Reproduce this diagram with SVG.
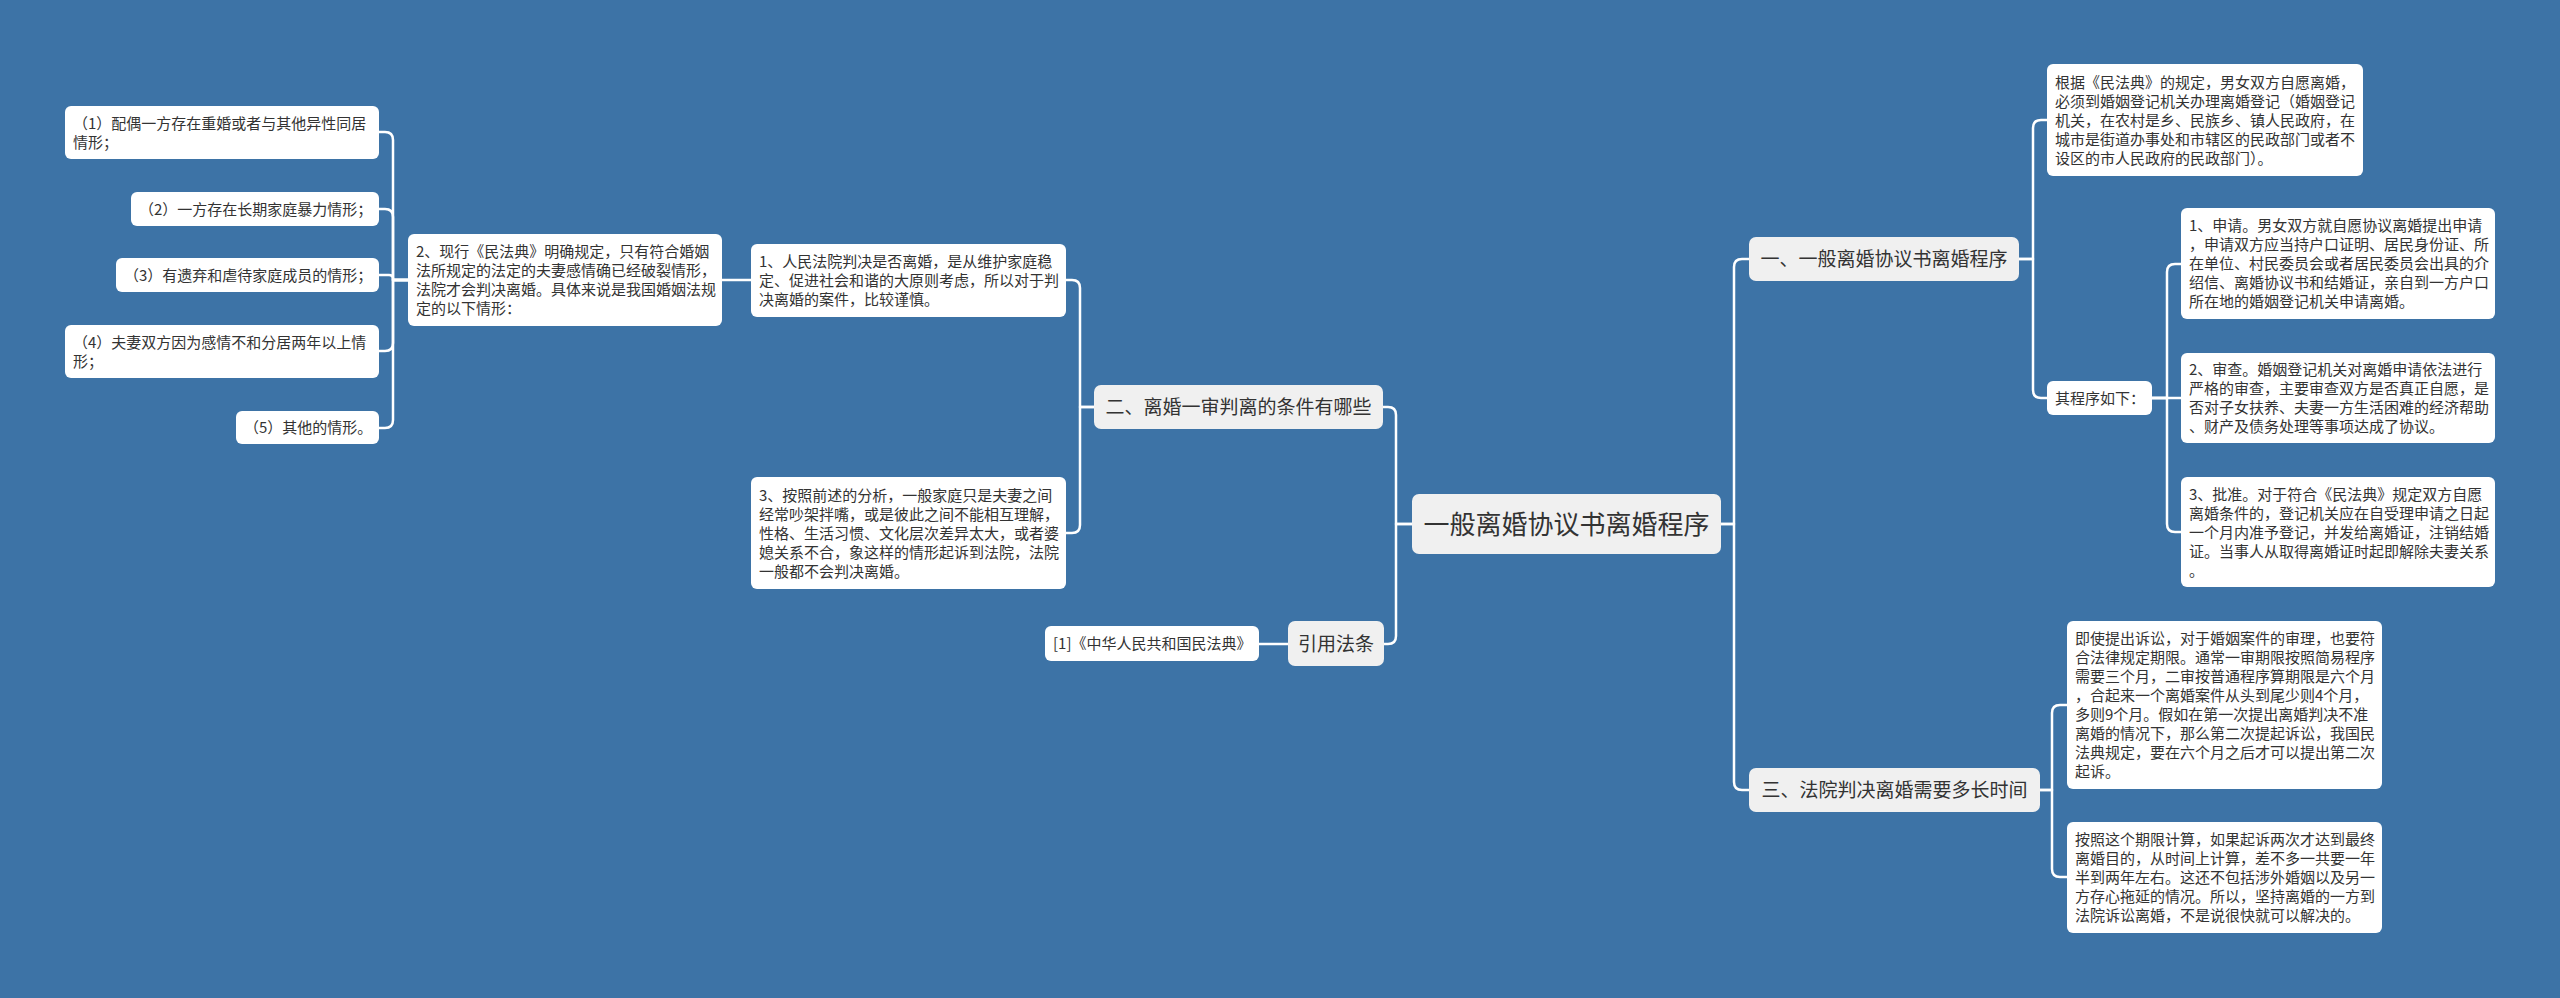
<svg xmlns="http://www.w3.org/2000/svg" width="2560" height="998" viewBox="0 0 2560 998">
<style>
.bg{fill:#3d73a6}
.main{fill:#f0f0f0}
.leaf{fill:#ffffff}
.t{font-family:"Noto Sans CJK SC","Microsoft YaHei",sans-serif;fill:#333333}
.s15{font-size:15px}
.s19{font-size:19px;text-anchor:middle}
.s26{font-size:26px;text-anchor:middle}
.conn path{fill:none;stroke:#ffffff;stroke-width:2.5;stroke-linecap:round;stroke-linejoin:round}
</style>
<rect class="bg" x="0" y="0" width="2560" height="998"/>

<g class="conn" id="connectors">
<path d="M1412,524 H1396 V415 Q1396,407 1388,407 H1383"/>
<path d="M1412,524 H1396 V636 Q1396,644 1388,644 H1384"/>
<path d="M1721,524 H1734 V267 Q1734,259 1742,259 H1749"/>
<path d="M1721,524 H1734 V782 Q1734,790 1742,790 H1749"/>
<path d="M2019,259 H2033 V128 Q2033,120 2041,120 H2047"/>
<path d="M2019,259 H2033 V390 Q2033,398 2041,398 H2047"/>
<path d="M2152,398 H2167 V272 Q2167,264 2175,264 H2181"/>
<path d="M2152,398 H2181"/>
<path d="M2152,398 H2167 V524 Q2167,532 2175,532 H2181"/>
<path d="M2040,790 H2052 V713 Q2052,705 2060,705 H2067"/>
<path d="M2040,790 H2052 V869 Q2052,877 2060,877 H2067"/>
<path d="M1094,407 H1080 V288 Q1080,280 1072,280 H1066"/>
<path d="M1094,407 H1080 V525 Q1080,533 1072,533 H1066"/>
<path d="M1288,644 H1259"/>
<path d="M751,280 H722"/>
<path d="M408,280 H393 V140 Q393,132 385,132 H379"/>
<path d="M408,280 H393 V217 Q393,209 385,209 H379"/>
<path d="M408,280 H393 V279 Q393,275 389,275 H379"/>
<path d="M408,280 H393 V343 Q393,351 385,351 H379"/>
<path d="M408,280 H393 V420 Q393,428 385,428 H379"/>
</g>

<g id="root">
<rect class="main" x="1412" y="494" width="309" height="60" rx="7"/>
<text class="t s26" x="1566.5" y="534">一般离婚协议书离婚程序</text>
</g>

<g id="n1">
<rect class="main" x="1749" y="237" width="270" height="44" rx="7"/>
<text class="t s19" x="1884" y="266">一、一般离婚协议书离婚程序</text>
</g>

<g id="n1a">
<rect class="leaf" x="2047" y="64" width="316" height="112" rx="6"/>
<text class="t s15"><tspan x="2055" y="87.5">根据《民法典》的规定，男女双方自愿离婚，</tspan><tspan x="2055" y="106.5">必须到婚姻登记机关办理离婚登记（婚姻登记</tspan><tspan x="2055" y="125.5">机关，在农村是乡、民族乡、镇人民政府，在</tspan><tspan x="2055" y="144.5">城市是街道办事处和市辖区的民政部门或者不</tspan><tspan x="2055" y="163.5">设区的市人民政府的民政部门）。</tspan></text>
</g>

<g id="n1b">
<rect class="leaf" x="2047" y="381" width="105" height="34" rx="6"/>
<text class="t s15" x="2055" y="403.5">其程序如下：</text>
</g>

<g id="p1">
<rect class="leaf" x="2181" y="208" width="314" height="111" rx="6"/>
<text class="t s15"><tspan x="2189" y="231">1、申请。男女双方就自愿协议离婚提出申请</tspan><tspan x="2189" y="250">，申请双方应当持户口证明、居民身份证、所</tspan><tspan x="2189" y="269">在单位、村民委员会或者居民委员会出具的介</tspan><tspan x="2189" y="288">绍信、离婚协议书和结婚证，亲自到一方户口</tspan><tspan x="2189" y="307">所在地的婚姻登记机关申请离婚。</tspan></text>
</g>

<g id="p2">
<rect class="leaf" x="2181" y="353" width="314" height="90" rx="6"/>
<text class="t s15"><tspan x="2189" y="375">2、审查。婚姻登记机关对离婚申请依法进行</tspan><tspan x="2189" y="394">严格的审查，主要审查双方是否真正自愿，是</tspan><tspan x="2189" y="413">否对子女扶养、夫妻一方生活困难的经济帮助</tspan><tspan x="2189" y="432">、财产及债务处理等事项达成了协议。</tspan></text>
</g>

<g id="p3">
<rect class="leaf" x="2181" y="477" width="314" height="110" rx="6"/>
<text class="t s15"><tspan x="2189" y="499.5">3、批准。对于符合《民法典》规定双方自愿</tspan><tspan x="2189" y="518.5">离婚条件的，登记机关应在自受理申请之日起</tspan><tspan x="2189" y="537.5">一个月内准予登记，并发给离婚证，注销结婚</tspan><tspan x="2189" y="556.5">证。当事人从取得离婚证时起即解除夫妻关系</tspan><tspan x="2189" y="575.5">。</tspan></text>
</g>

<g id="n3">
<rect class="main" x="1749" y="768" width="291" height="44" rx="7"/>
<text class="t s19" x="1894.5" y="797">三、法院判决离婚需要多长时间</text>
</g>

<g id="n3a">
<rect class="leaf" x="2067" y="621" width="315" height="168" rx="6"/>
<text class="t s15"><tspan x="2075" y="644">即使提出诉讼，对于婚姻案件的审理，也要符</tspan><tspan x="2075" y="663">合法律规定期限。通常一审期限按照简易程序</tspan><tspan x="2075" y="682">需要三个月，二审按普通程序算期限是六个月</tspan><tspan x="2075" y="701">，合起来一个离婚案件从头到尾少则4个月，</tspan><tspan x="2075" y="720">多则9个月。假如在第一次提出离婚判决不准</tspan><tspan x="2075" y="739">离婚的情况下，那么第二次提起诉讼，我国民</tspan><tspan x="2075" y="758">法典规定，要在六个月之后才可以提出第二次</tspan><tspan x="2075" y="777">起诉。</tspan></text>
</g>

<g id="n3b">
<rect class="leaf" x="2067" y="822" width="315" height="111" rx="6"/>
<text class="t s15"><tspan x="2075" y="845">按照这个期限计算，如果起诉两次才达到最终</tspan><tspan x="2075" y="864">离婚目的，从时间上计算，差不多一共要一年</tspan><tspan x="2075" y="883">半到两年左右。这还不包括涉外婚姻以及另一</tspan><tspan x="2075" y="902">方存心拖延的情况。所以，坚持离婚的一方到</tspan><tspan x="2075" y="921">法院诉讼离婚，不是说很快就可以解决的。</tspan></text>
</g>

<g id="n2">
<rect class="main" x="1094" y="385" width="289" height="44" rx="7"/>
<text class="t s19" x="1238.5" y="414">二、离婚一审判离的条件有哪些</text>
</g>

<g id="n2a">
<rect class="leaf" x="751" y="244" width="315" height="73" rx="6"/>
<text class="t s15"><tspan x="759" y="267">1、人民法院判决是否离婚，是从维护家庭稳</tspan><tspan x="759" y="286">定、促进社会和谐的大原则考虑，所以对于判</tspan><tspan x="759" y="305">决离婚的案件，比较谨慎。</tspan></text>
</g>

<g id="n2c">
<rect class="leaf" x="751" y="477" width="315" height="112" rx="6"/>
<text class="t s15"><tspan x="759" y="500.5">3、按照前述的分析，一般家庭只是夫妻之间</tspan><tspan x="759" y="519.5">经常吵架拌嘴，或是彼此之间不能相互理解，</tspan><tspan x="759" y="538.5">性格、生活习惯、文化层次差异太大，或者婆</tspan><tspan x="759" y="557.5">媳关系不合，象这样的情形起诉到法院，法院</tspan><tspan x="759" y="576.5">一般都不会判决离婚。</tspan></text>
</g>

<g id="n2b">
<rect class="leaf" x="408" y="234" width="314" height="92" rx="6"/>
<text class="t s15"><tspan x="416" y="257">2、现行《民法典》明确规定，只有符合婚姻</tspan><tspan x="416" y="276">法所规定的法定的夫妻感情确已经破裂情形，</tspan><tspan x="416" y="295">法院才会判决离婚。具体来说是我国婚姻法规</tspan><tspan x="416" y="314">定的以下情形：</tspan></text>
</g>

<g id="c1">
<rect class="leaf" x="65" y="106" width="314" height="53" rx="6"/>
<text class="t s15"><tspan x="73" y="128.5">（1）配偶一方存在重婚或者与其他异性同居</tspan><tspan x="73" y="147.5">情形；</tspan></text>
</g>
<g id="c2">
<rect class="leaf" x="131" y="192" width="248" height="34" rx="6"/>
<text class="t s15" x="139" y="214.5">（2）一方存在长期家庭暴力情形；</text>
</g>
<g id="c3">
<rect class="leaf" x="116" y="258" width="263" height="34" rx="6"/>
<text class="t s15" x="124" y="280.5">（3）有遗弃和虐待家庭成员的情形；</text>
</g>
<g id="c4">
<rect class="leaf" x="65" y="325" width="314" height="53" rx="6"/>
<text class="t s15"><tspan x="73" y="347.5">（4）夫妻双方因为感情不和分居两年以上情</tspan><tspan x="73" y="366.5">形；</tspan></text>
</g>
<g id="c5">
<rect class="leaf" x="236" y="411" width="143" height="33" rx="6"/>
<text class="t s15" x="244" y="433">（5）其他的情形。</text>
</g>

<g id="ref">
<rect class="main" x="1288" y="621" width="96" height="45" rx="7"/>
<text class="t s19" x="1336" y="650.5">引用法条</text>
</g>
<g id="ref1">
<rect class="leaf" x="1045" y="626" width="214" height="35" rx="6"/>
<text class="t s15" x="1053" y="649">[1]《中华人民共和国民法典》</text>
</g>
</svg>
